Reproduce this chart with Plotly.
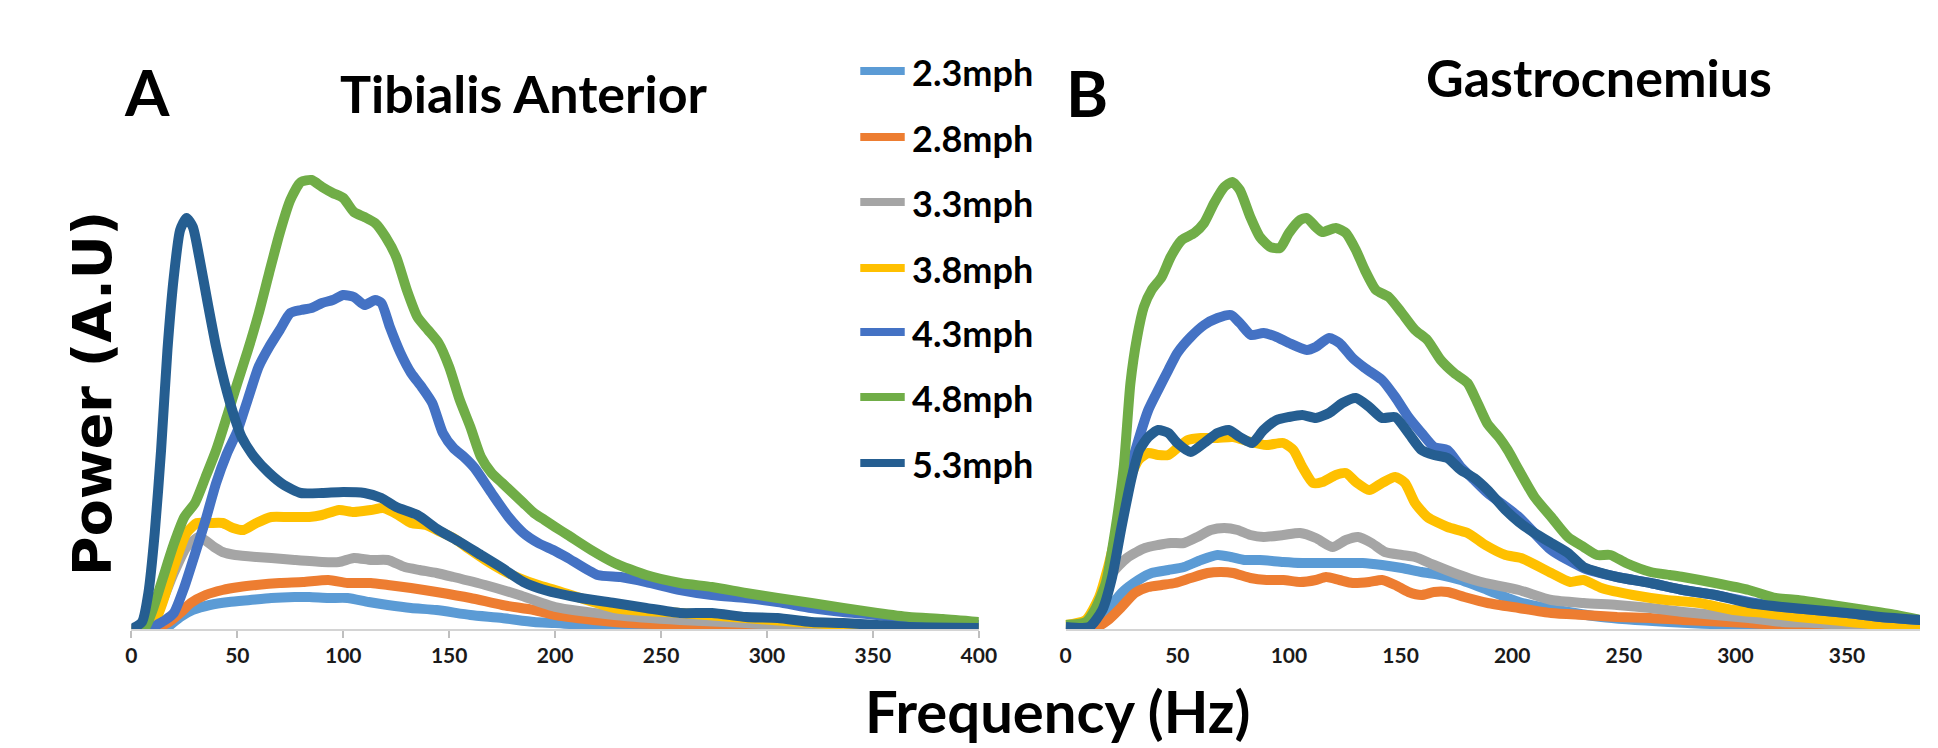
import plotly.graph_objects as go

W, H = 1938, 748

SPEEDS = ["2.3mph", "2.8mph", "3.3mph", "3.8mph", "4.3mph", "4.8mph", "5.3mph"]
COLORS = ["#5b9bd5", "#ed7d31", "#a5a5a5", "#ffc000", "#4472c4", "#70ad47", "#255e91"]
X_TICKS_TA = [0, 50, 100, 150, 200, 250, 300, 350, 400]
X_TICKS_GA = [0, 50, 100, 150, 200, 250, 300, 350]

# ---------------- Tibialis Anterior (panel A) ----------------
TA_F_23 = [0, 12, 17, 23, 29, 37, 46, 56, 66, 77, 84, 93, 102, 112, 121, 132, 144, 160, 175, 190, 200, 228, 259, 300, 400]
TA_P_23 = [0, 0, 0.02, 0.12, 0.19, 0.24, 0.27, 0.29, 0.31, 0.32, 0.32, 0.31, 0.31, 0.27, 0.24, 0.21, 0.19, 0.14, 0.11, 0.07, 0.06, 0.02, 0.01, 0, 0]

TA_F_28 = [0, 10, 17, 23, 28, 35, 43, 51, 59, 70, 81, 93, 102, 113, 121, 132, 144, 160, 175, 190, 200, 228, 259, 290, 336, 400]
TA_P_28 = [0, 0, 0.06, 0.16, 0.26, 0.34, 0.39, 0.42, 0.44, 0.46, 0.47, 0.49, 0.46, 0.46, 0.44, 0.41, 0.37, 0.31, 0.24, 0.19, 0.14, 0.07, 0.04, 0.02, 0, 0]

TA_F_33 = [0, 5, 12, 20, 26, 32, 39, 43, 49, 59, 66, 77, 90, 98, 105, 113, 121, 129, 136, 144, 152, 167, 183, 200, 228, 259, 290, 321, 352, 400]
TA_P_33 = [0, 0, 0.16, 0.56, 0.82, 0.92, 0.82, 0.77, 0.74, 0.72, 0.71, 0.69, 0.67, 0.67, 0.71, 0.69, 0.69, 0.62, 0.59, 0.56, 0.52, 0.44, 0.34, 0.22, 0.14, 0.09, 0.06, 0.02, 0.01, 0]

TA_F_38 = [0, 5, 12, 20, 26, 31, 37, 43, 48, 53, 59, 66, 74, 84, 90, 98, 105, 113, 119, 126, 132, 139, 146, 152, 160, 167, 175, 183, 192, 200, 228, 259, 290, 321, 352, 400]
TA_P_38 = [0, 0, 0.12, 0.62, 0.96, 1.06, 1.06, 1.06, 1.01, 0.99, 1.06, 1.12, 1.12, 1.12, 1.14, 1.19, 1.17, 1.19, 1.21, 1.14, 1.06, 1.04, 0.97, 0.91, 0.79, 0.69, 0.59, 0.51, 0.44, 0.39, 0.21, 0.16, 0.11, 0.06, 0.02, 0]

TA_F_43 = [0, 9, 12, 16, 20, 25, 30, 35, 40, 45, 50, 55, 60, 65, 70, 75, 80, 85, 90, 95, 100, 105, 110, 115, 118, 122, 127, 132, 137, 142, 147, 152, 157, 162, 170, 178, 185, 192, 200, 206, 220, 231, 243, 259, 274, 290, 305, 321, 336, 352, 367, 400]
TA_P_43 = [0, 0, 0.04, 0.09, 0.16, 0.42, 0.75, 1.09, 1.46, 1.75, 1.98, 2.3, 2.62, 2.82, 2.99, 3.16, 3.19, 3.21, 3.26, 3.29, 3.34, 3.32, 3.24, 3.29, 3.26, 3.02, 2.76, 2.56, 2.42, 2.26, 1.96, 1.81, 1.72, 1.61, 1.36, 1.12, 0.96, 0.86, 0.78, 0.71, 0.54, 0.52, 0.47, 0.39, 0.34, 0.31, 0.27, 0.21, 0.17, 0.14, 0.09, 0.04]

TA_F_48 = [0, 6, 10, 15, 20, 25, 30, 35, 40, 45, 50, 55, 60, 65, 70, 75, 80, 85, 90, 95, 100, 105, 110, 115, 120, 125, 130, 135, 140, 145, 150, 155, 160, 165, 170, 175, 180, 185, 190, 195, 200, 206, 217, 228, 243, 259, 274, 290, 305, 321, 336, 352, 367, 383, 400]
TA_P_48 = [0, 0, 0.19, 0.52, 0.85, 1.12, 1.26, 1.52, 1.79, 2.12, 2.46, 2.79, 3.15, 3.56, 3.96, 4.29, 4.47, 4.49, 4.42, 4.36, 4.31, 4.17, 4.12, 4.06, 3.92, 3.72, 3.39, 3.12, 2.99, 2.86, 2.62, 2.29, 2.02, 1.72, 1.56, 1.46, 1.36, 1.26, 1.16, 1.09, 1.02, 0.94, 0.79, 0.66, 0.54, 0.46, 0.42, 0.36, 0.31, 0.26, 0.21, 0.16, 0.12, 0.10, 0.07]

TA_F_53 = [0, 5, 8, 11, 14, 17, 20, 23, 26, 29, 32, 36, 40, 44, 48, 52, 58, 65, 72, 80, 90, 100, 110, 118, 125, 135, 145, 155, 165, 175, 185, 195, 212, 228, 243, 259, 274, 290, 305, 321, 336, 352, 367, 400]
TA_P_53 = [0, 0.07, 0.36, 0.96, 1.79, 2.79, 3.52, 3.99, 4.11, 4.02, 3.72, 3.26, 2.82, 2.46, 2.16, 1.92, 1.72, 1.56, 1.44, 1.36, 1.36, 1.37, 1.36, 1.31, 1.22, 1.14, 0.99, 0.87, 0.74, 0.61, 0.47, 0.39, 0.31, 0.26, 0.21, 0.16, 0.16, 0.12, 0.11, 0.07, 0.06, 0.04, 0.02, 0.01]

# ---------------- Gastrocnemius (panel B) ----------------
GA_F_23 = [0, 10, 13.4, 19, 25, 32.6, 38.5, 46, 53, 60.6, 68, 74, 80, 87, 97.5, 106, 115, 124, 133, 141.7, 150.6, 159.4, 168, 177, 189, 203, 213, 240, 270, 300, 340, 383]
GA_P_23 = [0, 0, 0.02, 0.19, 0.36, 0.49, 0.56, 0.59, 0.62, 0.69, 0.74, 0.72, 0.69, 0.69, 0.67, 0.66, 0.66, 0.66, 0.66, 0.64, 0.61, 0.57, 0.54, 0.49, 0.39, 0.27, 0.22, 0.12, 0.07, 0.04, 0.02, 0.01]

GA_F_28 = [0, 12, 19, 25, 31, 37, 43, 49, 56, 63.6, 69.5, 75, 82.7, 90, 97.5, 105, 112, 116.6, 122.6, 128.5, 136, 141.7, 147.6, 153.5, 159.4, 165, 171, 178.6, 189, 203, 217.5, 232, 247, 262, 276.5, 306, 335.5, 383]
GA_P_28 = [0, 0, 0.09, 0.22, 0.36, 0.42, 0.44, 0.46, 0.51, 0.56, 0.57, 0.56, 0.51, 0.49, 0.49, 0.47, 0.49, 0.52, 0.49, 0.46, 0.47, 0.49, 0.44, 0.37, 0.34, 0.37, 0.37, 0.32, 0.26, 0.21, 0.16, 0.14, 0.12, 0.11, 0.09, 0.06, 0.02, 0]

GA_F_33 = [0, 10.5, 16.4, 22, 28, 35.5, 41.4, 47, 53, 59, 65, 71, 77, 82.7, 88.6, 97.5, 105, 112, 119.6, 125.5, 131, 137, 143, 150.6, 156.5, 165, 174, 183, 188, 203, 217.5, 232, 247, 262, 276.5, 291, 306, 321, 335.5, 365, 383]
GA_P_33 = [0.02, 0.04, 0.36, 0.59, 0.72, 0.81, 0.84, 0.86, 0.86, 0.92, 0.99, 1.01, 0.99, 0.94, 0.92, 0.94, 0.96, 0.91, 0.82, 0.89, 0.92, 0.86, 0.77, 0.74, 0.72, 0.64, 0.56, 0.49, 0.46, 0.39, 0.29, 0.26, 0.24, 0.21, 0.17, 0.14, 0.11, 0.07, 0.06, 0.02, 0.01]

GA_F_38 = [0, 9, 15, 19, 23.7, 28, 32.6, 37, 41.4, 46, 50, 54.7, 60.6, 68, 75, 82.7, 90, 97.5, 102, 106, 110.8, 115, 121, 125.5, 130, 136, 141.7, 147.6, 152, 156.5, 162, 171, 180, 188, 197, 204, 217.5, 226, 232, 240, 254, 269, 284, 299, 313, 328, 343, 365, 383]
GA_P_38 = [0.04, 0.09, 0.32, 0.62, 1.06, 1.46, 1.69, 1.76, 1.74, 1.74, 1.81, 1.89, 1.91, 1.91, 1.92, 1.87, 1.84, 1.86, 1.79, 1.62, 1.46, 1.47, 1.54, 1.56, 1.47, 1.39, 1.46, 1.52, 1.46, 1.26, 1.12, 1.02, 0.96, 0.84, 0.74, 0.71, 0.56, 0.47, 0.49, 0.41, 0.34, 0.29, 0.26, 0.19, 0.16, 0.12, 0.09, 0.04, 0.02]

GA_F_43 = [0, 10.5, 16.4, 22, 28, 32.6, 37, 41.4, 46, 50, 56, 62, 68, 74, 78, 83, 88.6, 94.5, 100, 108, 112, 118, 122.6, 128.5, 134, 141.7, 147.6, 153.5, 159.4, 165, 171, 177, 183, 189, 203, 217.5, 232, 247, 262, 276.5, 291, 306, 321, 335.5, 350, 365, 383]
GA_P_43 = [0.02, 0.02, 0.22, 0.79, 1.52, 1.89, 2.19, 2.39, 2.59, 2.76, 2.92, 3.04, 3.11, 3.14, 3.06, 2.94, 2.96, 2.92, 2.86, 2.79, 2.82, 2.91, 2.86, 2.71, 2.61, 2.49, 2.32, 2.12, 1.96, 1.82, 1.79, 1.62, 1.49, 1.36, 1.12, 0.79, 0.61, 0.52, 0.46, 0.39, 0.34, 0.27, 0.22, 0.19, 0.16, 0.12, 0.09]

GA_F_48 = [0, 9, 13, 18, 22, 26, 29, 32, 35, 38.5, 43, 47, 52, 57.6, 62, 66.5, 71, 74.6, 78, 82.7, 87, 91.6, 96, 100, 105, 108, 112, 115, 121, 125.5, 130, 134, 139, 144.7, 150.6, 156.5, 162, 168, 174, 180, 184.5, 189, 194, 198, 203, 210, 217.5, 225, 232, 238, 244, 251, 262, 270.6, 276.5, 291, 306, 318, 328, 343, 358, 372, 383]
GA_P_48 = [0.04, 0.07, 0.19, 0.46, 0.96, 1.62, 2.46, 2.92, 3.22, 3.39, 3.52, 3.72, 3.89, 3.96, 4.06, 4.26, 4.42, 4.47, 4.39, 4.12, 3.92, 3.82, 3.81, 3.96, 4.09, 4.11, 4.02, 3.97, 4.01, 3.96, 3.79, 3.59, 3.39, 3.32, 3.16, 2.99, 2.89, 2.69, 2.56, 2.46, 2.26, 2.05, 1.92, 1.79, 1.59, 1.32, 1.12, 0.92, 0.82, 0.74, 0.74, 0.66, 0.57, 0.54, 0.52, 0.46, 0.39, 0.31, 0.29, 0.24, 0.19, 0.14, 0.09]

GA_F_53 = [0, 10.5, 16.4, 20.8, 25, 29.6, 33, 37, 41.4, 46, 50, 56, 62, 68, 73, 78, 83.5, 88.6, 94.5, 100, 106, 112, 118, 124, 130, 136, 141.7, 147.6, 153.5, 159.4, 165, 171, 177, 183, 189, 197, 203, 210, 217.5, 225, 232, 240, 247, 262, 276.5, 291, 306, 321, 335.5, 350, 365, 383]
GA_P_53 = [0.02, 0.02, 0.19, 0.52, 1.02, 1.52, 1.79, 1.92, 1.99, 1.96, 1.86, 1.77, 1.86, 1.96, 1.99, 1.92, 1.86, 1.99, 2.09, 2.12, 2.14, 2.11, 2.16, 2.26, 2.31, 2.22, 2.11, 2.12, 1.96, 1.79, 1.74, 1.71, 1.59, 1.51, 1.39, 1.19, 1.07, 0.96, 0.86, 0.76, 0.62, 0.56, 0.52, 0.46, 0.39, 0.34, 0.26, 0.22, 0.19, 0.16, 0.12, 0.09]

TA_SERIES = [(TA_F_23, TA_P_23), (TA_F_28, TA_P_28), (TA_F_33, TA_P_33), (TA_F_38, TA_P_38),
             (TA_F_43, TA_P_43), (TA_F_48, TA_P_48), (TA_F_53, TA_P_53)]
GA_SERIES = [(GA_F_23, GA_P_23), (GA_F_28, GA_P_28), (GA_F_33, GA_P_33), (GA_F_38, GA_P_38),
             (GA_F_43, GA_P_43), (GA_F_48, GA_P_48), (GA_F_53, GA_P_53)]

FONT = "Lato, sans-serif"
LINE_W = 10

fig = go.Figure()
for (f, p), name, col in zip(TA_SERIES, SPEEDS, COLORS):
    fig.add_trace(go.Scatter(x=f, y=p, mode="lines", name=name, showlegend=False,
                             line=dict(color=col, width=LINE_W, shape="spline", smoothing=0.6),
                             xaxis="x", yaxis="y"))
for (f, p), name, col in zip(GA_SERIES, SPEEDS, COLORS):
    fig.add_trace(go.Scatter(x=f, y=p, mode="lines", name=name, showlegend=False,
                             line=dict(color=col, width=LINE_W, shape="spline", smoothing=0.6),
                             xaxis="x2", yaxis="y2"))


def px(x):
    return x / W


def py(y):
    return 1 - y / H


y_dom = [py(629), py(129)]
axis_common = dict(showgrid=False, zeroline=False, showline=True, linecolor="#d4d4d4", linewidth=2,
                   ticks="outside", ticklen=7, tickwidth=1.5,
                   tickfont=dict(family=FONT, size=21, color="#1a1a1a", weight="bold"))

fig.update_layout(
    width=W, height=H, margin=dict(l=0, r=0, t=0, b=0),
    paper_bgcolor="white", plot_bgcolor="white", showlegend=False,
    xaxis=dict(domain=[px(127), px(985)], range=[0, 400], tickvals=X_TICKS_TA,
               tickcolor="#bfbfbf", anchor="y", **axis_common),
    yaxis=dict(domain=y_dom, range=[0, 5], visible=False, anchor="x"),
    xaxis2=dict(domain=[px(1073), 1.0], range=[0, 382.7], tickvals=X_TICKS_GA,
                tickcolor="rgba(0,0,0,0)", anchor="y2", **axis_common),
    yaxis2=dict(domain=y_dom, range=[0, 5], visible=False, anchor="x2"),
)

ann = []


def add_text(text, x, y, size, family=FONT, angle=0, xanchor="center"):
    ann.append(dict(text=text, x=px(x), y=py(y), xref="paper", yref="paper", showarrow=False,
                    xanchor=xanchor, yanchor="middle", textangle=angle,
                    font=dict(family=family, size=size, color="black", weight="bold")))


add_text("A", 143, 91, 64)
add_text("Tibialis Anterior", 525, 93, 52)
add_text("B", 1095, 93, 64)
add_text("Gastrocnemius", 1613, 77, 52)
add_text("Frequency (Hz)", 1065, 710, 58)
add_text("Power (A.U)", 87, 393, 54, family="DejaVu Sans, sans-serif", angle=-90)

LEG_Y = [71, 137, 202, 268, 332, 397, 463]
shapes = []
for name, col, ly in zip(SPEEDS, COLORS, LEG_Y):
    shapes.append(dict(type="line", xref="paper", yref="paper", x0=px(865), x1=px(910), y0=py(ly), y1=py(ly),
                       line=dict(color=col, width=8)))
    add_text(name, 915, ly + 1, 36, xanchor="left")

fig.update_layout(annotations=ann, shapes=shapes)
fig.write_html("out.html")
